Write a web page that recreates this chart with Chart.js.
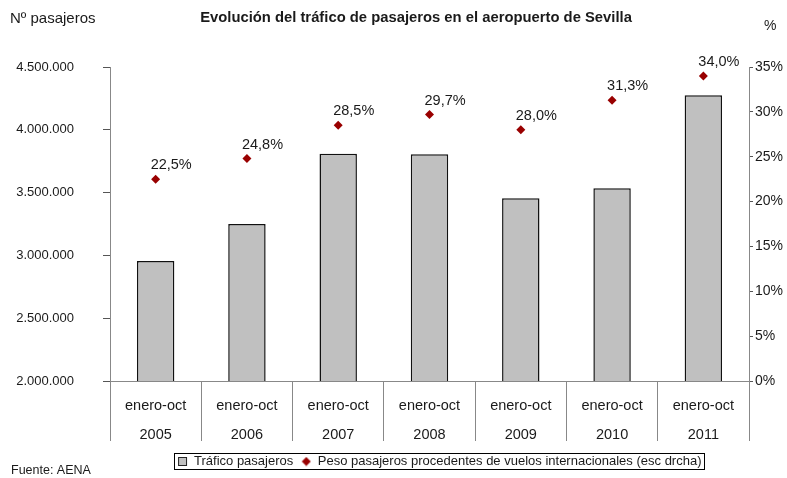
<!DOCTYPE html>
<html><head><meta charset="utf-8">
<script src="https://cdn.jsdelivr.net/npm/chart.js@4/dist/chart.umd.min.js"></script>
<style>html,body{margin:0;padding:0;background:#fff}#wrap{width:787px;height:478px}</style>
</head><body><div id="wrap"><canvas id="c" width="787" height="478"></canvas></div>
<script>
// ---- data ----
const periodLabel = 'enero-oct';
const years = ['2005', '2006', '2007', '2008', '2009', '2010', '2011'];
const passengers = [2955000, 3250000, 3810000, 3805000, 3455000, 3535000, 4275000];
const intlShare = [22.5, 24.8, 28.5, 29.7, 28.0, 31.3, 34.0];
const leftAxisRange = [2000000, 4500000, 500000];
const rightAxisRange = [0, 35, 5];
const seriesNames = ['Tráfico pasajeros', 'Peso pasajeros procedentes de vuelos internacionales (esc drcha)'];
const titleText = 'Evolución del tráfico de pasajeros en el aeropuerto de Sevilla';
const leftAxisTitle = 'Nº pasajeros';
const rightAxisTitle = '%';
const sourceText = 'Fuente: AENA';

const categories = years.map(y => [periodLabel, y]);
const FONT = '"Liberation Sans", Arial, sans-serif';
const TXT = '#1a1a1a';
const BAR_FILL = '#c0c0c0';
const POINT_COLOR = '#990000';
Chart.defaults.font.family = FONT;
Chart.defaults.color = TXT;

const fmtPct = v => v.toFixed(1).replace('.', ',') + '%';
const fmtThousands = v => Math.round(v).toString().replace(/\B(?=(\d{3})+(?!\d))/g, '.');

// legend icons
const sqIcon = document.createElement('canvas');
sqIcon.width = 11; sqIcon.height = 11;
(() => { const c = sqIcon.getContext('2d'); c.fillStyle = BAR_FILL; c.fillRect(1, 1, 9, 9); c.strokeStyle = '#222'; c.lineWidth = 1; c.strokeRect(1.5, 1.5, 8, 8); })();
const dmIcon = document.createElement('canvas');
dmIcon.width = 10; dmIcon.height = 10;
(() => { const c = dmIcon.getContext('2d'); c.fillStyle = POINT_COLOR; c.beginPath(); c.moveTo(5, 0.5); c.lineTo(9.5, 5); c.lineTo(5, 9.5); c.lineTo(0.5, 5); c.closePath(); c.fill(); })();

const LEGEND_SHIFT = 10;
const extras = {
  id: 'extras',
  afterLayout(chart) {
    const lg = chart.legend;
    if (lg) { lg.left += LEGEND_SHIFT; lg.right += LEGEND_SHIFT; }
  },
  afterDatasetsDraw(chart) {
    const ctx = chart.ctx;
    const meta = chart.getDatasetMeta(1);
    ctx.save();
    ctx.fillStyle = TXT;
    ctx.font = '14.5px ' + FONT;
    ctx.textAlign = 'left';
    ctx.textBaseline = 'alphabetic';
    meta.data.forEach((pt, i) => ctx.fillText(fmtPct(intlShare[i]), pt.x - 5, pt.y - 10));
    ctx.restore();
  },
  afterDraw(chart) {
    const ctx = chart.ctx;
    ctx.save();
    ctx.fillStyle = TXT;
    ctx.textBaseline = 'middle';
    ctx.textAlign = 'center';
    ctx.font = 'bold 14.8px ' + FONT;
    ctx.fillText(titleText, 416, 18);
    ctx.textAlign = 'left';
    ctx.font = '15px ' + FONT;
    ctx.fillText(leftAxisTitle, 10, 19);
    ctx.font = '14px ' + FONT;
    ctx.fillText(rightAxisTitle, 764, 26);
    ctx.font = '12.5px ' + FONT;
    ctx.fillText(sourceText, 11, 471);
    // legend frame
    const hb = chart.legend.legendHitBoxes;
    if (hb && hb.length) {
      let l = Infinity, r = -Infinity, t = Infinity, b = -Infinity;
      hb.forEach(h => { l = Math.min(l, h.left); r = Math.max(r, h.left + h.width); t = Math.min(t, h.top); b = Math.max(b, h.top + h.height); });
      ctx.strokeStyle = '#000';
      ctx.lineWidth = 1;
      ctx.strokeRect(Math.round(l - 4) + 0.5, Math.round(t - 2) + 0.5, Math.round(r - l + 6), Math.round(b - t + 3));
    }
    ctx.restore();
  }
};

new Chart(document.getElementById('c'), {
  data: {
    labels: categories,
    datasets: [
      {
        type: 'bar', label: seriesNames[0], data: passengers, yAxisID: 'y',
        backgroundColor: BAR_FILL, borderColor: '#111', borderWidth: 1.5,
        categoryPercentage: 1, barPercentage: 0.41, order: 2
      },
      {
        type: 'line', label: seriesNames[1], data: intlShare, yAxisID: 'y1',
        showLine: false, pointStyle: 'rectRot', pointRadius: 4.5, pointHoverRadius: 4.5,
        backgroundColor: POINT_COLOR, borderColor: POINT_COLOR, borderWidth: 0, order: 1
      }
    ]
  },
  options: {
    responsive: false,
    animation: false,
    events: [],
    layout: { padding: { top: 67, bottom: 0, left: 0, right: 0 } },
    plugins: {
      tooltip: { enabled: false },
      legend: {
        position: 'bottom',
        fullSize: false,
        labels: {
          usePointStyle: true, boxWidth: 10, boxHeight: 10, padding: 8,
          font: { size: 13 }, color: TXT,
          sort: (a, b) => a.datasetIndex - b.datasetIndex,
          generateLabels(chart) {
            const items = Chart.defaults.plugins.legend.labels.generateLabels(chart);
            items.forEach(it => { it.pointStyle = it.datasetIndex === 0 ? sqIcon : dmIcon; });
            return items;
          }
        }
      }
    },
    scales: {
      x: {
        offset: true,
        grid: { offset: true, drawOnChartArea: false, tickLength: 60, color: '#888', lineWidth: 1 },
        border: { color: '#888' },
        ticks: { padding: -50, font: { size: 14.5, lineHeight: 2.0 }, color: TXT, maxRotation: 0, autoSkip: false },
        afterFit(s) { s.height = 66; }
      },
      y: {
        position: 'left',
        min: leftAxisRange[0], max: leftAxisRange[1],
        grid: { drawOnChartArea: false, tickLength: 7, color: '#555' },
        border: { color: '#888' },
        ticks: { stepSize: leftAxisRange[2], padding: 29, font: { size: 13 }, color: TXT, callback: v => fmtThousands(v) },
        afterFit(s) { s.width = 110; }
      },
      y1: {
        position: 'right',
        min: rightAxisRange[0], max: rightAxisRange[1],
        grid: { drawOnChartArea: false, tickLength: 4, color: '#555' },
        border: { color: '#888' },
        ticks: { stepSize: rightAxisRange[2], padding: 2, font: { size: 14 }, color: TXT, callback: v => v + '%' },
        afterFit(s) { s.width = 38; }
      }
    }
  },
  plugins: [extras]
});
</script>
</body></html>
